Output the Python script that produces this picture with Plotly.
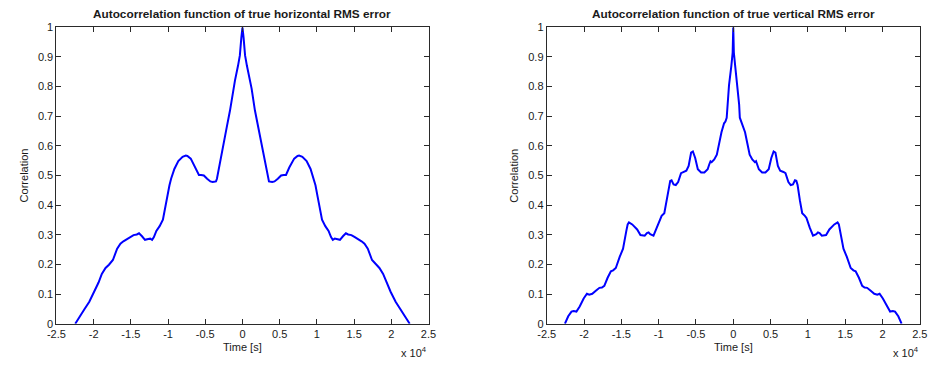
import plotly.graph_objects as go

# Autocorrelation of the true horizontal RMS error (lag in seconds)
lag_h = [-22470, -21900, -21240, -20580, -19920, -19340, -18900, -18400, -17940, -17410,
         -16840, -16400, -16000, -15520, -15100, -14640, -14200, -13900, -13500, -13100,
         -12660, -12400, -12140, -11900, -11570, -11130, -10690, -10380, -10110, -9810,
         -9590, -9150, -8620, -8050, -7610, -7400, -6950, -6290, -5850, -5550,
         -5190, -4750, -4310, -4000, -3560, -3430, -2990, -2550, -2110, -1670,
         -1230, -1010, -600, -350, -150,
         0,
         150, 350, 600, 1010, 1230, 1670, 2110, 2550, 2990, 3430,
         3560, 4000, 4310, 4750, 5190, 5550, 5850, 6290, 6950, 7400,
         7610, 8050, 8620, 9150, 9590, 9810, 10110, 10380, 10690, 11130,
         11570, 11900, 12140, 12400, 12660, 13100, 13500, 13900, 14200, 14640,
         15100, 15520, 16000, 16400, 16840, 17410, 17940, 18400, 18900, 19340,
         19920, 20580, 21240, 21900, 22470]
corr_h = [0.000, 0.025, 0.049, 0.074, 0.107, 0.139, 0.168, 0.188, 0.199, 0.215,
          0.253, 0.270, 0.278, 0.286, 0.292, 0.299, 0.301, 0.305, 0.295, 0.283,
          0.286, 0.287, 0.283, 0.292, 0.313, 0.329, 0.351, 0.395, 0.427, 0.467,
          0.489, 0.522, 0.549, 0.563, 0.567, 0.566, 0.557, 0.527, 0.502, 0.502,
          0.500, 0.489, 0.480, 0.478, 0.480, 0.489, 0.543, 0.600, 0.663, 0.720,
          0.793, 0.820, 0.870, 0.905, 0.965,
          1.000,
          0.965, 0.905, 0.870, 0.820, 0.793, 0.720, 0.663, 0.600, 0.543, 0.489,
          0.480, 0.478, 0.480, 0.489, 0.500, 0.502, 0.502, 0.527, 0.557, 0.566,
          0.567, 0.563, 0.549, 0.522, 0.489, 0.467, 0.427, 0.395, 0.351, 0.329,
          0.313, 0.292, 0.283, 0.287, 0.286, 0.283, 0.295, 0.305, 0.301, 0.299,
          0.292, 0.286, 0.278, 0.270, 0.253, 0.215, 0.199, 0.188, 0.168, 0.139,
          0.107, 0.074, 0.049, 0.025, 0.000]

# Autocorrelation of the true vertical RMS error (lag in seconds)
lag_v = [-22560, -22120, -21680, -21400, -21020, -20580, -20050, -19610, -19300, -18900,
         -18380, -17940, -17600, -17280, -16840, -16400, -16100, -15740, -15210, -14770,
         -14330, -14150, -13980, -13540, -12880, -12440, -11870, -11570, -11350, -11130,
         -10690, -10250, -9810, -9600, -9240, -8930, -8620, -8450, -8270, -8000,
         -7700, -7390, -7000, -6730, -6290, -5980, -5650, -5410, -5100, -4750,
         -4310, -3870, -3430, -3210, -3050, -2900, -2550, -2200, -1890, -1580,
         -1230, -1050, -880, -790, -570, -260, -80,
         0,
         80, 260, 570, 790, 880, 1050, 1230, 1580, 1890, 2200,
         2550, 2900, 3050, 3210, 3430, 3870, 4310, 4750, 5100, 5410,
         5650, 5980, 6290, 6730, 7000, 7390, 7700, 8000, 8270, 8450,
         8620, 8930, 9240, 9600, 9810, 10250, 10690, 11130, 11350, 11570,
         11870, 12440, 12880, 13540, 13980, 14150, 14330, 14770, 15210, 15740,
         16100, 16400, 16840, 17280, 17600, 17940, 18380, 18900, 19300, 19610,
         20050, 20580, 21020, 21400, 21680, 22120, 22560]
corr_v = [0.000, 0.025, 0.041, 0.043, 0.041, 0.058, 0.085, 0.101, 0.098, 0.101,
          0.112, 0.121, 0.122, 0.128, 0.155, 0.177, 0.180, 0.188, 0.226, 0.253,
          0.313, 0.335, 0.342, 0.335, 0.318, 0.299, 0.297, 0.306, 0.308, 0.302,
          0.297, 0.324, 0.357, 0.364, 0.373, 0.416, 0.468, 0.482, 0.484, 0.470,
          0.468, 0.478, 0.508, 0.512, 0.516, 0.532, 0.577, 0.581, 0.559, 0.521,
          0.510, 0.510, 0.521, 0.538, 0.548, 0.545, 0.554, 0.570, 0.608, 0.646,
          0.676, 0.682, 0.695, 0.739, 0.804, 0.869, 0.915,
          1.000,
          0.915, 0.869, 0.804, 0.739, 0.695, 0.682, 0.676, 0.646, 0.608, 0.570,
          0.554, 0.545, 0.548, 0.538, 0.521, 0.510, 0.510, 0.521, 0.559, 0.581,
          0.577, 0.532, 0.516, 0.512, 0.508, 0.478, 0.468, 0.470, 0.484, 0.482,
          0.468, 0.416, 0.373, 0.364, 0.357, 0.324, 0.297, 0.302, 0.308, 0.306,
          0.297, 0.299, 0.318, 0.335, 0.342, 0.335, 0.313, 0.253, 0.226, 0.188,
          0.180, 0.177, 0.155, 0.128, 0.122, 0.121, 0.112, 0.101, 0.098, 0.101,
          0.085, 0.058, 0.041, 0.043, 0.041, 0.025, 0.000]

x_ticks = [-25000, -20000, -15000, -10000, -5000, 0, 5000, 10000, 15000, 20000, 25000]
x_tick_text = ["-2.5", "-2", "-1.5", "-1", "-0.5", "0", "0.5", "1", "1.5", "2", "2.5"]
y_ticks = [0, 0.1, 0.2, 0.3, 0.4, 0.5, 0.6, 0.7, 0.8, 0.9, 1]
y_tick_text = ["0", "0.1", "0.2", "0.3", "0.4", "0.5", "0.6", "0.7", "0.8", "0.9", "1"]

titles = ["Autocorrelation function of true horizontal RMS error",
          "Autocorrelation function of true vertical RMS error"]

W, H = 933, 372
FONT = "Liberation Sans, Arial, sans-serif"
TXT = "#1a1a1a"

fig = go.Figure()
fig.add_trace(go.Scatter(x=lag_h, y=corr_h, mode="lines", xaxis="x", yaxis="y",
                         line=dict(color="#0000ff", width=2), showlegend=False))
fig.add_trace(go.Scatter(x=lag_v, y=corr_v, mode="lines", xaxis="x2", yaxis="y2",
                         line=dict(color="#0000ff", width=2), showlegend=False))

# plot boxes in pixels: (left, right)
boxes = [(48.3, 427.3), (547.7, 927.7)]
top_px, bot_px = 22.0, 328.3
ydom = [1 - bot_px / H, 1 - top_px / H]

axis_common = dict(showline=True, linecolor="#2a2a2a", linewidth=1, mirror="ticks",
                   ticks="inside", ticklen=5, tickcolor="#2a2a2a", showgrid=False,
                   zeroline=False, tickfont=dict(family=FONT, size=11, color=TXT))

layout = dict(width=W, height=H, margin=dict(l=0, r=0, t=0, b=0),
              paper_bgcolor="white", plot_bgcolor="white", annotations=[])
for i, (l, r) in enumerate(boxes):
    sfx = "" if i == 0 else str(i + 1)
    layout["xaxis" + sfx] = dict(axis_common, domain=[l / W, r / W], range=[-25000, 25000],
                                 tickmode="array", tickvals=x_ticks, ticktext=x_tick_text,
                                 anchor="y" + sfx)
    layout["yaxis" + sfx] = dict(axis_common, domain=ydom, range=[0, 1],
                                 tickmode="array", tickvals=y_ticks, ticktext=y_tick_text,
                                 anchor="x" + sfx)
    cx = (l + r) / 2 / W
    layout["annotations"] += [
        dict(text="<b>" + titles[i] + "</b>", x=cx, y=1 - 8.5 / H, xref="paper", yref="paper",
             showarrow=False, xanchor="center", yanchor="middle",
             font=dict(family=FONT, size=11.8, color=TXT)),
        dict(text="Time [s]", x=cx, y=1 - 352 / H, xref="paper", yref="paper",
             showarrow=False, xanchor="center", yanchor="middle",
             font=dict(family=FONT, size=11, color=TXT)),
        dict(text="Correlation", x=(l - 33) / W, y=1 - 175 / H, xref="paper", yref="paper",
             showarrow=False, xanchor="center", yanchor="middle", textangle=-90,
             font=dict(family=FONT, size=11, color=TXT)),
        dict(text="x 10<sup>4</sup>", x=(r + 1) / W, y=1 - 358 / H, xref="paper", yref="paper",
             showarrow=False, xanchor="right", yanchor="middle",
             font=dict(family=FONT, size=11, color=TXT)),
    ]

fig.update_layout(**layout)
fig.write_html("out.html")
